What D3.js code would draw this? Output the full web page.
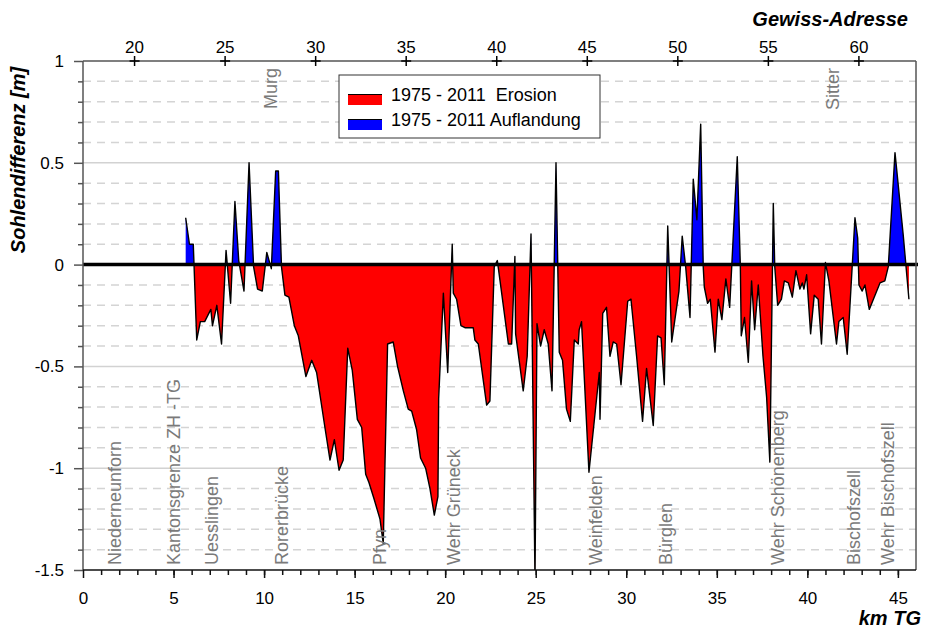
<!DOCTYPE html>
<html>
<head>
<meta charset="utf-8">
<script src="https://cdn.jsdelivr.net/npm/d3@7"></script>
<style>
body { margin: 0; background: #fff; }
text { font-family: "Liberation Sans", Arial, sans-serif; }
</style>
</head>
<body>
<div id="container"></div>
<script>
var WIDTH = 925, HEIGHT = 630;
var PLOT_LEFT = 83, PLOT_RIGHT = 916, PLOT_TOP = 61, PLOT_BOTTOM = 570;
var GEWISS_OFFSET = 17.18; // Gewiss-Adresse = km TG + offset

// Profile: km TG and bed level difference 1975 - 2011 [m]
var kmTG = [
  5.67, 5.88, 6.09, 6.28, 6.48, 6.72, 7.06, 7.15, 7.39, 7.65,
  7.90, 8.15, 8.39, 8.60, 8.89, 9.17, 9.42, 9.64, 9.90, 10.15,
  10.40, 10.64, 10.79, 10.96, 11.15, 11.37, 11.67, 11.89, 12.31, 12.63,
  12.90, 13.36, 13.64, 13.88, 14.14, 14.37, 14.62, 14.87, 15.15, 15.39,
  15.61, 15.79, 16.07, 16.40, 16.58, 16.82, 17.13, 17.37, 17.69, 17.96,
  18.15, 18.42, 18.64, 18.92, 19.16, 19.40, 19.60, 19.64, 19.90, 20.14,
  20.39, 20.45, 20.63, 20.87, 21.09, 21.55, 21.64, 21.83, 22.29, 22.47,
  22.71, 22.88, 23.03, 23.49, 23.67, 23.85, 23.89, 24.31, 24.53, 24.74,
  24.96, 25.07, 25.27, 25.47, 25.69, 25.90, 26.12, 26.30, 26.48, 26.70,
  26.91, 27.13, 27.35, 27.40, 27.53, 27.94, 28.51, 28.55, 28.70, 28.91,
  29.10, 29.28, 29.47, 29.71, 30.08, 30.26, 30.57, 30.90, 31.12, 31.49,
  31.73, 31.92, 32.10, 32.29, 32.51, 32.91, 33.09, 33.28, 33.52, 33.70,
  33.90, 34.11, 34.25, 34.31, 34.49, 34.64, 34.90, 35.08, 35.28, 35.50,
  35.71, 36.13, 36.30, 36.35, 36.53, 36.74, 36.92, 37.09, 37.29, 37.55,
  37.75, 37.93, 38.12, 38.20, 38.36, 38.57, 38.73, 38.95, 39.17, 39.37,
  39.59, 39.72, 39.81, 39.96, 40.18, 40.38, 40.60, 40.78, 41.00, 41.19,
  41.61, 41.74, 41.98, 42.20, 42.63, 42.78, 42.85, 43.03, 43.18, 43.42,
  44.01, 44.28, 44.47, 44.84, 45.30, 45.61
];
var sohlenDiff = [
  0.23, 0.10, 0.10, -0.37, -0.28, -0.28, -0.22, -0.30, -0.20, -0.39,
  0.07, -0.19, 0.31, 0.02, -0.13, 0.50, -0.01, -0.12, -0.13, 0.06,
  -0.02, 0.46, 0.46, -0.01, -0.15, -0.16, -0.30, -0.35, -0.55, -0.47,
  -0.53, -0.80, -0.96, -0.86, -1.01, -0.96, -0.41, -0.52, -0.76, -0.80,
  -1.03, -1.07, -1.15, -1.25, -1.37, -0.39, -0.38, -0.50, -0.62, -0.71,
  -0.72, -0.81, -0.95, -1.00, -1.10, -1.23, -1.14, -0.66, -0.14, -0.53,
  0.10, -0.14, -0.17, -0.30, -0.31, -0.31, -0.37, -0.39, -0.69, -0.67,
  -0.01, 0.02, -0.08, -0.39, -0.39, 0.04, -0.34, -0.62, -0.45, 0.15,
  -1.55, -0.29, -0.40, -0.32, -0.39, -0.62, 0.50, -0.43, -0.47, -0.71,
  -0.77, -0.37, -0.39, -0.32, -0.28, -1.02, -0.53, -0.76, -0.24, -0.21,
  -0.45, -0.38, -0.39, -0.59, -0.18, -0.17, -0.45, -0.77, -0.51, -0.79,
  -0.35, -0.36, -0.59, 0.19, -0.38, -0.13, 0.14, -0.01, -0.26, 0.42,
  0.22, 0.69, -0.01, -0.11, -0.19, -0.17, -0.43, -0.17, -0.27, -0.07,
  -0.21, 0.53, -0.01, -0.35, -0.26, -0.48, -0.08, -0.32, -0.10, -0.45,
  -0.65, -0.97, 0.30, -0.01, -0.20, -0.17, -0.08, -0.09, -0.16, -0.03,
  -0.12, -0.09, -0.12, -0.05, -0.34, -0.15, -0.17, -0.39, 0.01, -0.08,
  -0.39, -0.28, -0.26, -0.44, 0.23, 0.13, -0.10, -0.13, -0.10, -0.22,
  -0.09, -0.08, -0.01, 0.55, 0.14, -0.17
];

var kmTicks = [0, 5, 10, 15, 20, 25, 30, 35, 40, 45];
var gewissTicks = [20, 25, 30, 35, 40, 45, 50, 55, 60];
var yTicks = [-1.5, -1, -0.5, 0, 0.5, 1];

// Sites along the river (km of label)
var siteNames = ['Niederneunforn', 'Kantonsgrenze ZH -TG', 'Uesslingen', 'Rorerbrücke', 'Pfyn',
                 'Wehr Grüneck', 'Weinfelden', 'Bürglen', 'Wehr Schönenberg', 'Bischofszell', 'Wehr Bischofszell'];
var siteKm = [2.10, 5.36, 7.45, 11.32, 16.73, 20.82, 28.64, 32.51, 38.71, 42.90, 44.78];
var tributaryNames = ['Murg', 'Sitter'];
var tributaryKm = [10.70, 41.76];

var legendLabels = ['1975 - 2011  Erosion', '1975 - 2011 Auflandung'];
var legendColors = ['#ff0000', '#0000ff'];

var svg = d3.select('#container').append('svg')
    .attr('width', WIDTH)
    .attr('height', HEIGHT);

var x = d3.scaleLinear().domain([0, 46]).range([PLOT_LEFT, PLOT_RIGHT]);
var xGewiss = d3.scaleLinear().domain([GEWISS_OFFSET, 46 + GEWISS_OFFSET]).range([PLOT_LEFT, PLOT_RIGHT]);
var y = d3.scaleLinear().domain([-1.5, 1]).range([PLOT_BOTTOM, PLOT_TOP]);

var y0 = y(0);

// clip paths for plot, positive and negative part
var defs = svg.append('defs');
defs.append('clipPath').attr('id', 'clipPlot').append('rect')
    .attr('x', PLOT_LEFT).attr('y', PLOT_TOP)
    .attr('width', PLOT_RIGHT - PLOT_LEFT).attr('height', PLOT_BOTTOM - PLOT_TOP);
defs.append('clipPath').attr('id', 'clipAbove').append('rect')
    .attr('x', PLOT_LEFT).attr('y', PLOT_TOP)
    .attr('width', PLOT_RIGHT - PLOT_LEFT).attr('height', y0 - PLOT_TOP);
defs.append('clipPath').attr('id', 'clipBelow').append('rect')
    .attr('x', PLOT_LEFT).attr('y', y0)
    .attr('width', PLOT_RIGHT - PLOT_LEFT).attr('height', PLOT_BOTTOM - y0);

// gridlines
var minorY = d3.range(-15, 11).map(function(d) { return d / 10; })
    .filter(function(d) { return Math.round(d * 10) % 5 !== 0; });
var majorY = [-1, -0.5, 0.5];

svg.append('g').selectAll('line')
    .data(minorY)
    .enter()
    .append('line')
      .attr('x1', PLOT_LEFT).attr('x2', PLOT_RIGHT)
      .attr('y1', function(d) { return y(d); })
      .attr('y2', function(d) { return y(d); })
      .attr('stroke', '#d4d4d4')
      .attr('stroke-width', 1.5)
      .attr('stroke-dasharray', '8,6');

svg.append('g').selectAll('line')
    .data(majorY)
    .enter()
    .append('line')
      .attr('x1', PLOT_LEFT).attr('x2', PLOT_RIGHT)
      .attr('y1', function(d) { return y(d); })
      .attr('y2', function(d) { return y(d); })
      .attr('stroke', '#d2d2d2')
      .attr('stroke-width', 1.5);

// profile
var points = kmTG.map(function(k, i) { return [k, sohlenDiff[i]]; });

var area = d3.area()
    .x(function(d) { return x(d[0]); })
    .y0(y0)
    .y1(function(d) { return y(d[1]); });
var line = d3.line()
    .x(function(d) { return x(d[0]); })
    .y(function(d) { return y(d[1]); });

svg.append('path')
    .datum(points)
    .attr('d', area)
    .attr('fill', legendColors[1])
    .attr('clip-path', 'url(#clipAbove)');
svg.append('path')
    .datum(points)
    .attr('d', area)
    .attr('fill', legendColors[0])
    .attr('clip-path', 'url(#clipBelow)');
svg.append('path')
    .datum(points)
    .attr('d', line)
    .attr('fill', 'none')
    .attr('stroke', '#000')
    .attr('stroke-width', 1.4)
    .attr('stroke-linejoin', 'round')
    .attr('clip-path', 'url(#clipPlot)');

// zero line
svg.append('line')
    .attr('x1', PLOT_LEFT).attr('x2', PLOT_RIGHT + 2)
    .attr('y1', y0).attr('y2', y0)
    .attr('stroke', '#000')
    .attr('stroke-width', 3.5);

// frame lines
svg.append('line')
    .attr('x1', PLOT_LEFT).attr('x2', PLOT_RIGHT)
    .attr('y1', PLOT_TOP).attr('y2', PLOT_TOP)
    .attr('stroke', '#555').attr('stroke-width', 1.5);
svg.append('line')
    .attr('x1', PLOT_RIGHT).attr('x2', PLOT_RIGHT)
    .attr('y1', PLOT_TOP).attr('y2', PLOT_BOTTOM)
    .attr('stroke', '#555').attr('stroke-width', 1.5);
svg.append('line')
    .attr('x1', PLOT_LEFT).attr('x2', PLOT_LEFT)
    .attr('y1', PLOT_TOP).attr('y2', PLOT_BOTTOM)
    .attr('stroke', '#555').attr('stroke-width', 1.5);
svg.append('line')
    .attr('x1', PLOT_LEFT).attr('x2', PLOT_RIGHT)
    .attr('y1', PLOT_BOTTOM).attr('y2', PLOT_BOTTOM)
    .attr('stroke', '#111').attr('stroke-width', 1.5);

function styleAxis(g, color) {
  g.select('.domain').remove();
  g.selectAll('line').attr('stroke', color).attr('stroke-width', 1.5);
  g.selectAll('text')
      .attr('fill', '#000')
      .style('font-size', '17px')
      .style('font-family', '"Liberation Sans", Arial, sans-serif');
}

// left axis
var leftMinor = svg.append('g')
    .attr('transform', 'translate(' + PLOT_LEFT + ',0)')
    .call(d3.axisLeft(y).tickValues(minorY).tickSize(5).tickFormat(''));
styleAxis(leftMinor, '#555');
var leftMajor = svg.append('g')
    .attr('transform', 'translate(' + PLOT_LEFT + ',0)')
    .call(d3.axisLeft(y).tickValues(yTicks).tickSize(9).tickPadding(10)
      .tickFormat(function(d) { return String(d); }));
styleAxis(leftMajor, '#555');

// bottom axis
var bottomMinor = svg.append('g')
    .attr('transform', 'translate(0,' + PLOT_BOTTOM + ')')
    .call(d3.axisBottom(x).tickValues(d3.range(1, 46)).tickSize(5).tickFormat(''));
styleAxis(bottomMinor, '#111');
var bottomMajor = svg.append('g')
    .attr('transform', 'translate(0,' + PLOT_BOTTOM + ')')
    .call(d3.axisBottom(x).tickValues(kmTicks).tickSize(8).tickPadding(14)
      .tickFormat(function(d) { return String(d); }));
styleAxis(bottomMajor, '#111');

// top axis (Gewiss-Adresse) with cross ticks
var topAxis = svg.append('g')
    .attr('transform', 'translate(0,' + PLOT_TOP + ')')
    .call(d3.axisTop(xGewiss).tickValues(gewissTicks).tickSize(5).tickPadding(3)
      .tickFormat(function(d) { return String(d); }));
styleAxis(topAxis, '#000');
topAxis.selectAll('.tick').append('line')
    .attr('y1', 0).attr('y2', 5)
    .attr('stroke', '#000').attr('stroke-width', 1.5);
topAxis.selectAll('.tick').append('line')
    .attr('x1', -5).attr('x2', 5)
    .attr('stroke', '#000').attr('stroke-width', 1.5);

// axis titles
svg.append('text')
    .attr('transform', 'translate(25,160) rotate(-90)')
    .attr('text-anchor', 'middle')
    .style('font-size', '20px')
    .style('font-weight', 'bold')
    .style('font-style', 'italic')
    .text('Sohlendifferenz [m]');
svg.append('text')
    .attr('x', 908).attr('y', 26)
    .attr('text-anchor', 'end')
    .style('font-size', '20px')
    .style('font-weight', 'bold')
    .style('font-style', 'italic')
    .text('Gewiss-Adresse');
svg.append('text')
    .attr('x', 921).attr('y', 625)
    .attr('text-anchor', 'end')
    .style('font-size', '20px')
    .style('font-weight', 'bold')
    .style('font-style', 'italic')
    .text('km TG');

// site labels
svg.append('g').selectAll('text')
    .data(siteNames)
    .enter()
    .append('text')
      .attr('transform', function(d, i) { return 'translate(' + x(siteKm[i]) + ',565) rotate(-90)'; })
      .attr('text-anchor', 'start')
      .attr('fill', '#7a7a7a')
      .style('font-size', '18px')
      .text(function(d) { return d; });
svg.append('g').selectAll('text')
    .data(tributaryNames)
    .enter()
    .append('text')
      .attr('transform', function(d, i) { return 'translate(' + x(tributaryKm[i]) + ',68) rotate(-90)'; })
      .attr('text-anchor', 'end')
      .attr('fill', '#7a7a7a')
      .style('font-size', '18px')
      .text(function(d) { return d; });

// legend
var legend = svg.append('g').attr('transform', 'translate(339,75)');
legend.append('rect')
    .attr('width', 261).attr('height', 63)
    .attr('fill', '#fff')
    .attr('stroke', '#333')
    .attr('stroke-width', 1);
var items = legend.selectAll('g.item')
    .data(legendLabels)
    .enter()
    .append('g')
      .attr('class', 'item')
      .attr('transform', function(d, i) { return 'translate(0,' + (19 + i * 25) + ')'; });
items.append('rect')
    .attr('x', 9).attr('width', 34).attr('height', 11)
    .attr('fill', function(d, i) { return legendColors[i]; });
items.append('line')
    .attr('x1', 9).attr('x2', 43)
    .attr('y1', 0.5).attr('y2', 0.5)
    .attr('stroke', '#000').attr('stroke-width', 1);
items.append('text')
    .attr('x', 52).attr('y', 7)
    .style('font-size', '18px')
    .style('white-space', 'pre')
    .attr('xml:space', 'preserve')
    .text(function(d) { return d; });
</script>
</body>
</html>
